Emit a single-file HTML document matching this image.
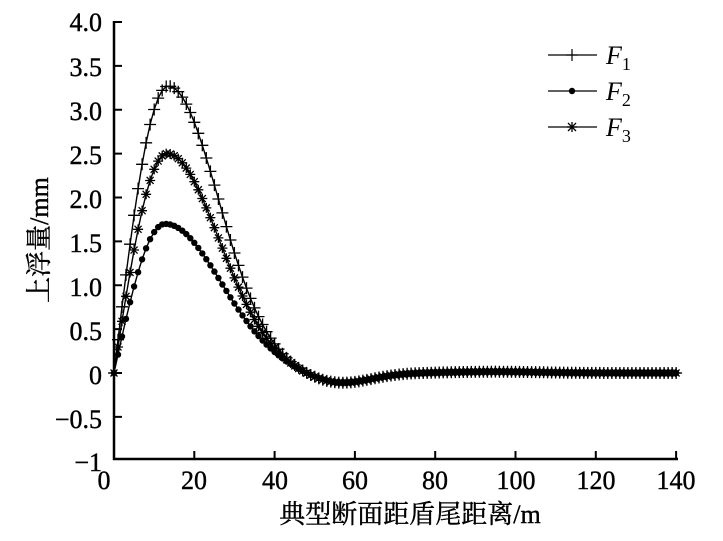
<!DOCTYPE html>
<html><head><meta charset="utf-8"><style>
html,body{margin:0;padding:0;background:#fff;}
svg{display:block;font-family:"Liberation Serif","Noto Serif CJK SC",serif;}
</style></head><body>
<svg id="s" width="723" height="541" viewBox="0 0 723 541" xmlns="http://www.w3.org/2000/svg">
<g stroke="#000" stroke-width="2.5" fill="none">
<line x1="114" y1="21" x2="114" y2="460"/>
<line x1="113" y1="459" x2="678" y2="459"/>
</g>
<g id="ticks" stroke="#000" stroke-width="2"></g>
<g font-size="26" text-anchor="end" fill="#000" stroke="#000" stroke-width="0.4">
<text x="102" y="31">4.0</text><text x="102" y="76">3.5</text><text x="102" y="120">3.0</text>
<text x="102" y="164">2.5</text><text x="102" y="208">2.0</text><text x="102" y="252">1.5</text>
<text x="102" y="296">1.0</text><text x="102" y="340">0.5</text><text x="102" y="384">0</text>
<text x="102" y="428">−0.5</text><text x="102" y="471">−1</text>
</g>
<g font-size="26" text-anchor="middle" fill="#000" stroke="#000" stroke-width="0.4">
<text x="104" y="489">0</text><text x="194" y="489">20</text><text x="275" y="489">40</text>
<text x="355" y="489">60</text><text x="435" y="489">80</text><text x="516" y="489">100</text>
<text x="596" y="489">120</text><text x="676" y="489">140</text>
</g>
<text x="410" y="523" font-size="26" text-anchor="middle" stroke="#000" stroke-width="0.4">典型断面距盾尾距离/m</text>
<text transform="translate(48,240) rotate(-90)" font-size="26" text-anchor="middle" stroke="#000" stroke-width="0.4">上浮量/mm</text>
<g id="series"></g>
<g stroke="#000" stroke-width="1.2">
<line x1="548" y1="55" x2="597" y2="55"/><line x1="548" y1="91" x2="597" y2="91"/><line x1="548" y1="127" x2="597" y2="127"/>
<line x1="572" y1="49" x2="572" y2="61"/><line x1="566" y1="55" x2="578" y2="55"/>
</g>
<circle cx="572" cy="91" r="3.2" fill="#000"/>
<g stroke="#000" stroke-width="1.3"><line x1="567" y1="127" x2="577" y2="127"/><line x1="572" y1="122" x2="572" y2="132"/><line x1="568" y1="123" x2="576" y2="131"/><line x1="576" y1="123" x2="568" y2="131"/></g>
<g font-size="26" font-style="italic">
<text x="606" y="64">F<tspan font-size="18" font-style="normal" dy="6">1</tspan></text>
<text x="606" y="100">F<tspan font-size="18" font-style="normal" dy="6">2</tspan></text>
<text x="606" y="136">F<tspan font-size="18" font-style="normal" dy="6">3</tspan></text>
</g>
</svg>
<script>
function X(x){return 114+x*4.015;}
function Y(y){return 373-y*87.75;}
var t=document.getElementById("ticks"),h="";
for(var i=1;i<=7;i++){var xx=X(i*20);h+='<line x1="'+xx+'" y1="459" x2="'+xx+'" y2="451"/>';}
for(var j=-1;j<=8;j++){var yy=Y(j*0.5);h+='<line x1="114" y1="'+yy+'" x2="122" y2="'+yy+'"/>';}
t.innerHTML=h;
function f(A,p,s,x){
 var m;
 if(x<=p){m=Math.sin(Math.PI/2*x/p);}
 else{m=Math.exp(-Math.pow((x-p)/s,2)/2);}
 var d=-0.12*Math.exp(-Math.pow((x-56)/11,2));
 var d2=0.015*Math.exp(-Math.pow((x-95)/15,2));
 return A*m+d+d2;
}
var S=[[3.27,13.5,12.5,"p"],[1.70,12.7,14,"c"],[2.50,13.2,13,"a"]];
var g="";
S.forEach(function(s){
 var pts=[];
 for(var x=0;x<=140;x+=1){pts.push([X(x),Y(f(s[0],s[1],s[2],x))]);}
 g+='<polyline fill="none" stroke="#000" stroke-width="1.4" points="'+pts.map(function(p){return p[0].toFixed(1)+","+p[1].toFixed(1)}).join(" ")+'"/>';
 pts.forEach(function(p){
  var a=p[0].toFixed(1),b=p[1].toFixed(1);
  if(s[3]=="p"){g+='<path d="M'+(p[0]-6)+' '+b+'h12M'+a+' '+(p[1]-6)+'v12" stroke="#000" stroke-width="1.3"/>';}
  else if(s[3]=="c"){g+='<circle cx="'+a+'" cy="'+b+'" r="3.2" fill="#000"/>';}
  else {g+='<path d="M'+(p[0]-5)+' '+b+'h10M'+a+' '+(p[1]-5)+'v10M'+(p[0]-3.5)+' '+(p[1]-3.5)+'l7 7M'+(p[0]+3.5)+' '+(p[1]-3.5)+'l-7 7" stroke="#000" stroke-width="1.3"/>';}
 });
});
document.getElementById("series").innerHTML=g;
</script>
</body></html>
